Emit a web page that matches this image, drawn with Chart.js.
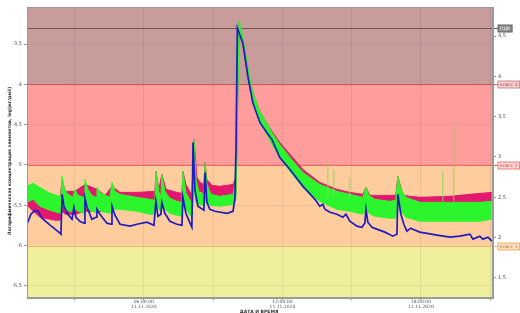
<!DOCTYPE html>
<html><head><meta charset="utf-8">
<script src="https://cdn.jsdelivr.net/npm/chart.js@4.4.0/dist/chart.umd.min.js"></script>
<style>html,body{margin:0;padding:0;background:#fff;overflow:hidden}</style>
</head><body>
<canvas id="c" width="520" height="313"></canvas>
<script>
// ---- data: hours of 11.11.2020 and left-axis log values ----
const blueHours = [0.94,1.11,1.29,1.42,1.59,1.94,2.37,2.41,2.46,2.54,2.71,2.89,2.93,2.97,3.06,3.23,3.41,3.45,3.54,3.75,3.93,3.97,4.10,4.40,4.58,4.62,4.75,4.97,5.40,5.70,6.13,6.44,6.52,6.61,6.74,6.78,6.91,7.13,7.43,7.65,7.69,7.82,8.00,8.08,8.13,8.21,8.34,8.60,8.65,8.73,8.86,9.08,9.60,9.86,9.94,9.99,10.05,10.29,10.51,10.72,11.03,11.33,11.55,11.89,12.33,12.89,13.41,13.62,13.75,13.84,14.06,14.36,14.62,14.75,14.92,15.23,15.44,15.57,15.62,15.70,15.88,16.09,16.44,16.78,16.96,17.00,17.13,17.26,17.39,17.56,17.65,17.95,18.69,19.25,19.68,20.12,20.25,20.46,20.55,20.68,20.90,21.07];
const blueValues = [-5.735,-5.611,-5.562,-5.574,-5.660,-5.747,-5.846,-5.858,-5.364,-5.512,-5.611,-5.673,-5.673,-5.525,-5.648,-5.698,-5.722,-5.414,-5.525,-5.673,-5.648,-5.549,-5.611,-5.722,-5.735,-5.512,-5.623,-5.735,-5.759,-5.735,-5.710,-5.747,-5.451,-5.636,-5.611,-5.463,-5.599,-5.698,-5.735,-5.747,-5.401,-5.599,-5.722,-5.772,-4.722,-5.302,-5.512,-5.562,-5.093,-5.463,-5.549,-5.574,-5.599,-5.574,-5.426,-4.809,-3.302,-3.488,-3.907,-4.228,-4.475,-4.599,-4.685,-4.907,-5.056,-5.265,-5.426,-5.512,-5.488,-5.549,-5.586,-5.611,-5.648,-5.611,-5.698,-5.759,-5.772,-5.722,-5.549,-5.710,-5.772,-5.796,-5.833,-5.883,-5.858,-5.364,-5.611,-5.735,-5.821,-5.784,-5.796,-5.833,-5.870,-5.895,-5.883,-5.858,-5.920,-5.895,-5.883,-5.920,-5.895,-5.944];

const greenHours = [0.94,1.20,1.50,1.94,2.37,2.41,2.46,2.54,2.67,2.93,3.02,3.15,3.41,3.45,3.58,3.75,3.93,3.97,4.14,4.53,4.62,4.75,4.97,5.70,6.26,6.48,6.52,6.65,6.74,6.78,6.91,7.13,7.43,7.65,7.69,7.82,8.00,8.08,8.17,8.26,8.39,8.60,8.65,8.73,8.91,9.29,9.86,9.99,10.12,10.29,10.51,10.72,11.03,11.33,11.55,11.89,12.33,12.89,13.62,14.36,14.92,15.49,15.62,15.75,16.00,16.65,16.91,17.00,17.13,17.35,17.95,19.25,20.55,21.07];
const greenHigh = [-5.265,-5.228,-5.278,-5.352,-5.389,-5.377,-5.142,-5.278,-5.352,-5.401,-5.302,-5.377,-5.401,-5.179,-5.302,-5.377,-5.401,-5.278,-5.352,-5.401,-5.216,-5.327,-5.364,-5.401,-5.426,-5.438,-5.080,-5.327,-5.401,-5.117,-5.327,-5.414,-5.451,-5.463,-5.080,-5.340,-5.438,-5.463,-4.685,-5.179,-5.340,-5.364,-4.969,-5.241,-5.364,-5.389,-5.364,-5.179,-3.204,-3.426,-3.796,-4.105,-4.340,-4.488,-4.599,-4.747,-4.907,-5.093,-5.241,-5.327,-5.364,-5.401,-5.278,-5.377,-5.426,-5.451,-5.438,-5.142,-5.302,-5.401,-5.463,-5.463,-5.463,-5.451];
const greenLow = [-5.463,-5.426,-5.512,-5.562,-5.599,-5.586,-5.488,-5.525,-5.562,-5.586,-5.549,-5.574,-5.599,-5.525,-5.549,-5.574,-5.586,-5.549,-5.574,-5.599,-5.525,-5.549,-5.549,-5.574,-5.611,-5.611,-5.488,-5.549,-5.586,-5.488,-5.549,-5.599,-5.623,-5.636,-5.488,-5.549,-5.623,-5.648,-5.302,-5.463,-5.488,-5.500,-5.426,-5.475,-5.500,-5.512,-5.488,-5.426,-3.327,-3.512,-3.920,-4.228,-4.463,-4.623,-4.747,-4.907,-5.080,-5.278,-5.451,-5.549,-5.574,-5.611,-5.549,-5.599,-5.636,-5.660,-5.660,-5.488,-5.574,-5.648,-5.698,-5.698,-5.698,-5.673];

const redHours = [0.94,1.50,2.15,2.37,2.46,2.59,3.02,3.45,3.97,4.32,4.62,4.97,5.70,6.48,6.52,6.65,6.78,6.96,7.43,7.65,7.69,7.82,8.08,8.17,8.30,8.43,8.60,8.65,8.73,8.95,9.29,9.86,9.99,10.12,10.29,10.51,10.72,11.03,11.33,11.55,11.89,12.33,12.89,13.62,14.36,14.92,15.49,15.62,15.79,16.91,17.00,17.22,17.95,19.25,20.12,21.07];
const redHigh = [-5.302,-5.327,-5.401,-5.426,-5.179,-5.327,-5.327,-5.241,-5.302,-5.377,-5.265,-5.340,-5.340,-5.327,-5.080,-5.302,-5.117,-5.302,-5.340,-5.352,-5.080,-5.241,-5.377,-4.685,-5.154,-5.216,-5.241,-4.969,-5.179,-5.253,-5.265,-5.241,-5.154,-3.228,-3.451,-3.821,-4.105,-4.340,-4.488,-4.586,-4.722,-4.870,-5.056,-5.216,-5.302,-5.340,-5.364,-5.278,-5.377,-5.377,-5.142,-5.377,-5.401,-5.389,-5.364,-5.340];
const redLow = [-5.500,-5.648,-5.685,-5.685,-5.574,-5.611,-5.611,-5.574,-5.574,-5.574,-5.525,-5.500,-5.488,-5.463,-5.426,-5.426,-5.426,-5.451,-5.488,-5.500,-5.426,-5.463,-5.500,-5.302,-5.327,-5.327,-5.352,-5.241,-5.327,-5.377,-5.389,-5.364,-5.364,-3.327,-3.525,-3.920,-4.228,-4.438,-4.599,-4.710,-4.846,-4.994,-5.179,-5.364,-5.426,-5.488,-5.488,-5.463,-5.488,-5.488,-5.426,-5.488,-5.500,-5.488,-5.475,-5.463];

const spikeHours = [13.97,14.23,14.92,18.95,19.42];
const spikeTops  = [-4.957,-5.056,-5.154,-5.080,-4.463];
const spikeBases = [-5.40,-5.40,-5.40,-5.45,-5.45];

const leftTicks  = [-3.5,-4,-4.5,-5,-5.5,-6,-6.5];
const rightTicks = [4.5,4,3.5,3,2.5,2,1.5];
const xTickHours = [3,6,9,12,15,18,21];
const xLabelHours = [6,12,18];
const dateLabel = '11.11.2020';

const zoneBounds = [-4,-5,-6];
const zoneColors = ['#c99c9c','#ff9c9c','#ffcc9e','#f0ef9c'];
const levelValues = [-3.30,-4,-5,-6];
const levelLabels = ['ПДК','класс 3','класс 2','класс 1'];
const levelLineColors = ['#6e5555','#d65a5a','#ec6a6a','#f2b26a'];
const levelBoxFill = ['#8a8a8a','#f3d0d0','#ffd6d6','#ffe2c4'];
const levelBoxStroke = ['#666','#c98a8a','#e88080','#e8b070'];
const levelTextColor = ['#fff','#a04848','#c03c3c','#b07020'];

const yTitle = 'Логарифмическая концентрация элементов, log(мг/дм3)';
const xTitle = 'ДАТА И ВРЕМЯ';

const Y_MIN = -6.65, Y_MAX = -3.04, RIGHT_OFFSET = 7.9;

const pts = (h, v) => h.map((x, i) => ({x, y: v[i]}));
const spikeData = [];
spikeHours.forEach((h, i) => {
  spikeData.push({x: h, y: spikeBases[i]}, {x: h, y: spikeTops[i]}, {x: h, y: null});
});

const zonePlugin = {
  id: 'zones',
  beforeDraw(chart) {
    const {ctx, chartArea: a, scales: {y}} = chart;
    const b = [y.max, ...zoneBounds, y.min];
    ctx.save();
    for (let i = 0; i < zoneColors.length; i++) {
      const t = y.getPixelForValue(b[i]);
      const bt = y.getPixelForValue(b[i + 1]);
      ctx.fillStyle = zoneColors[i];
      ctx.fillRect(a.left, t, a.right - a.left, bt - t);
    }
    levelValues.forEach((v, i) => {
      const py = Math.round(y.getPixelForValue(v)) + 0.5;
      ctx.strokeStyle = levelLineColors[i];
      ctx.lineWidth = 1;
      ctx.beginPath(); ctx.moveTo(a.left, py); ctx.lineTo(a.right + 5, py); ctx.stroke();
    });
    ctx.restore();
  },
  afterDraw(chart) {
    const {ctx, chartArea: a, scales: {y}} = chart;
    ctx.save();
    ctx.strokeStyle = '#9a9a9a';
    ctx.lineWidth = 1;
    ctx.strokeRect(a.left + 0.5, a.top + 0.5, a.right - a.left - 1, a.bottom - a.top - 1);
    ctx.font = '4.5px "DejaVu Sans"';
    ctx.textBaseline = 'middle';
    levelValues.forEach((v, i) => {
      const py = Math.round(y.getPixelForValue(v)) + 0.5;
      const w = ctx.measureText(levelLabels[i]).width + 4;
      const x0 = a.right + 5;
      ctx.fillStyle = levelBoxFill[i];
      ctx.fillRect(x0, py - 3.5, w, 7);
      ctx.strokeStyle = levelBoxStroke[i];
      ctx.strokeRect(x0, py - 3.5, w, 7);
      ctx.fillStyle = levelTextColor[i];
      ctx.textAlign = 'left';
      ctx.fillText(levelLabels[i], x0 + 2, py + 0.3);
    });
    ctx.fillStyle = '#333';
    ctx.font = 'bold 4.5px "DejaVu Sans"';
    ctx.save();
    ctx.translate(10, 161);
    ctx.rotate(-Math.PI / 2);
    ctx.textAlign = 'center';
    ctx.fillText(yTitle, 0, 0);
    ctx.restore();
    ctx.textAlign = 'center';
    ctx.textBaseline = 'top';
    ctx.font = 'bold 4.5px "DejaVu Sans"';
    ctx.fillText(xTitle, 259, 310);
    ctx.restore();
  }
};

const tickFont = {family: '"DejaVu Sans"', size: 5};
const fmt = v => String(v).replace('.', ',');
const band = (label, h, v, color, fill, order) => ({
  label, data: pts(h, v), borderColor: color, backgroundColor: color,
  borderWidth: 1, pointRadius: 0, fill, order
});

new Chart(document.getElementById('c'), {
  type: 'line',
  data: {
    datasets: [
      band('r-lo', redHours, redLow, '#e3176d', false, 5),
      band('r-hi', redHours, redHigh, '#e3176d', '-1', 4),
      band('g-lo', greenHours, greenLow, '#2df52d', false, 3),
      band('g-hi', greenHours, greenHigh, '#2df52d', '-1', 2),
      {label: 'spikes', data: spikeData, borderColor: '#86d85e', borderWidth: 1, pointRadius: 0, fill: false, spanGaps: false, order: 1},
      {label: 'blue', data: pts(blueHours, blueValues), borderColor: '#1c1cc0', borderWidth: 1.7, pointRadius: 0, fill: false, order: 0, tension: 0}
    ]
  },
  options: {
    responsive: false,
    devicePixelRatio: 1,
    animation: false,
    layout: {padding: {top: 7, left: 0, right: 0, bottom: 0}},
    plugins: {legend: {display: false}, tooltip: {enabled: false}},
    scales: {
      x: {
        type: 'linear', min: 0.94, max: 21.12,
        afterBuildTicks: s => { s.ticks = xTickHours.map(v => ({value: v})); },
        afterFit: s => { s.height = 15; },
        grid: {color: 'rgba(0,0,0,0.07)', tickLength: 2, tickColor: '#999'},
        border: {color: '#9a9a9a'},
        ticks: {
          font: {family: '"DejaVu Sans"', size: 4.5}, color: '#555', padding: -1, maxRotation: 0, autoSkip: false,
          callback: v => xLabelHours.includes(v) ? [String(v).padStart(2, '0') + ':00:00', dateLabel] : ''
        }
      },
      y: {
        type: 'linear', position: 'left', min: Y_MIN, max: Y_MAX,
        afterBuildTicks: s => { s.ticks = leftTicks.map(v => ({value: v})); },
        afterFit: s => { s.width = 27; },
        grid: {color: 'rgba(0,0,0,0.06)', tickLength: 3, tickColor: '#999'},
        border: {color: '#9a9a9a'},
        ticks: {font: tickFont, color: '#555', padding: 2, callback: fmt}
      },
      y2: {
        type: 'linear', position: 'right', min: Y_MIN + RIGHT_OFFSET, max: Y_MAX + RIGHT_OFFSET,
        afterBuildTicks: s => { s.ticks = rightTicks.map(v => ({value: v})); },
        afterFit: s => { s.width = 27; },
        grid: {drawOnChartArea: false, tickLength: 3, tickColor: '#999'},
        border: {color: '#9a9a9a'},
        ticks: {font: tickFont, color: '#555', padding: 2, callback: fmt}
      }
    }
  },
  plugins: [zonePlugin]
});
</script>
</body></html>
